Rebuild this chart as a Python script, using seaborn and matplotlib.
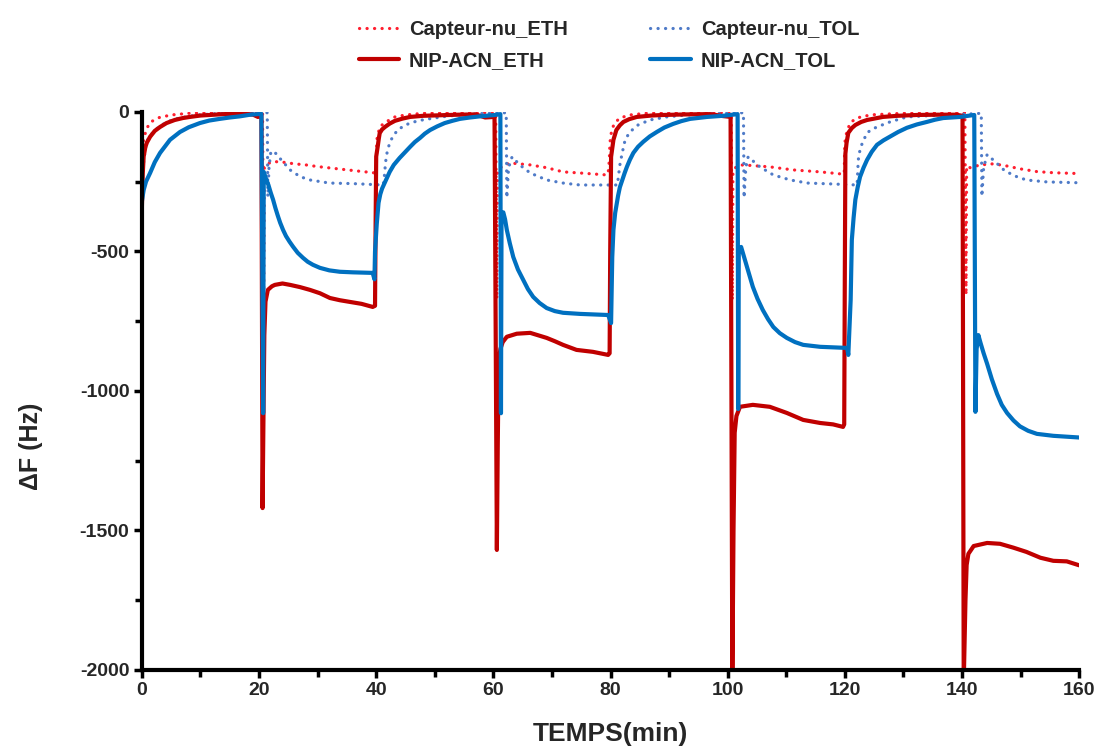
import numpy as np
import pandas as pd
import matplotlib
matplotlib.use("Agg")
import matplotlib.pyplot as plt
from matplotlib.ticker import MultipleLocator
import seaborn as sns

# Capteur-nu_ETH (bare sensor, ethanol)
t_nu_eth = [0, 0.4, 0.8, 1.5, 3, 5, 8, 12, 20.6,
            20.8, 20.9, 21.5, 22.5, 24, 26, 28, 30, 33, 36, 39.5, 40.0,
            40.1, 40.6, 41.5, 43.2, 45, 48, 55, 60.4,
            60.6, 60.7, 61.5, 62.8, 66.3, 69.1, 71.9, 74.8, 79.4, 79.6,
            79.8, 79.9, 80.2, 80.7, 81.6, 83.3, 86, 92, 100.6,
            100.8, 100.9, 101.5, 102.6, 107.2, 111.2, 115.8, 119.2, 119.9,
            120.0, 120.3, 120.9, 121.8, 123, 125, 130, 140.5,
            140.7, 140.8, 141.4, 143.1, 145.4, 147.7, 149.9, 152.8, 155.6, 160]
df_nu_eth = [-130, -90, -60, -36, -20, -11, -5, -3, -3,
             -670, -200, -185, -178, -180, -186, -190, -196, -203, -210, -218, -220,
             -100, -54, -38, -18, -11, -5, -3, -3,
             -670, -210, -195, -183, -190, -200, -215, -219, -226, -220,
             -172, -111, -65, -40, -22, -11, -5, -3, -3,
             -674, -215, -195, -190, -197, -208, -215, -222, -222,
             -111, -75, -40, -25, -16, -10, -5, -3,
             -656, -194, -200, -190, -186, -194, -204, -214, -218, -221]

# Capteur-nu_TOL (bare sensor, toluene)
t_nu_tol = [0, 0.3, 0.6, 1, 2, 3, 4.4, 6, 7.7, 10, 13, 17, 21.4,
            21.5, 21.7, 22, 22.5, 23.5, 25.3, 27, 28.7, 32, 36, 41.2,
            41.4, 41.6, 41.9, 42.3, 42.9, 43.7, 44.7, 45.8, 47.3, 49, 51.5, 54, 58, 62.2,
            62.3, 62.6, 63.2, 64.5, 66.3, 69.1, 71.9, 74.8, 81.2,
            81.3, 81.6, 82, 82.5, 83.3, 84.7, 86.7, 89.6, 93, 97, 102.7,
            102.8, 103.1, 103.5, 105.5, 107.8, 110.7, 113.6, 117.5, 122.1,
            122.3, 122.6, 123, 123.8, 124.6, 125.5, 127.7, 130.6, 134, 138, 143.3,
            143.4, 143.7, 144.3, 145.7, 147.1, 148.8, 151, 154.5, 160]
df_nu_tol = [-260, -180, -130, -100, -70, -52, -35, -24, -17, -10, -6, -3, -3,
             -304, -200, -145, -140, -165, -208, -232, -244, -255, -257, -262,
             -230, -180, -140, -112, -85, -65, -50, -40, -31, -25, -17, -11, -6, -3,
             -308, -200, -161, -190, -219, -244, -255, -262, -262,
             -240, -190, -147, -100, -72, -47, -29, -18, -11, -7, -3,
             -308, -200, -161, -197, -226, -244, -255, -258, -262,
             -172, -135, -111, -75, -63, -54, -36, -18, -14, -11, -5,
             -303, -200, -153, -179, -207, -228, -244, -251, -254]

# NIP-ACN_ETH (coated sensor, ethanol)
t_nip_eth = [0, 0.15, 0.3, 0.6, 0.85, 1.4, 2.2, 3.1, 4.2, 5.6, 7, 8.2, 10, 11.6, 14, 17, 19, 19.8, 20.4,
             20.6, 20.75, 20.9, 21.1, 21.5, 22.2, 22.7, 24, 25.3, 27, 28.7, 30.4, 32.1, 33.8, 35.5, 37.5, 39.4, 39.8,
             39.9, 40.0, 40.3, 40.45, 40.6, 41, 41.5, 42.3, 43.2, 44.5, 45.8, 48, 51, 54, 57, 58.6, 60.2,
             60.6, 60.75, 60.9, 61.2, 61.6, 62.3, 64, 66.3, 69.1, 70.5, 71.9, 74.2, 77, 79.6, 79.85,
             79.95, 80.1, 80.5, 81, 81.6, 82.2, 83.2, 84.5, 87, 89, 93, 97, 99.2, 100.5,
             100.8, 101.0, 101.2, 101.5, 102.1, 104.3, 107.2, 110.1, 112.9, 115.8, 118, 119.7, 119.9,
             120.0, 120.1, 120.3, 120.6, 121.2, 121.8, 122.8, 123.8, 126.5, 129, 132.3, 136, 139, 140.1,
             140.3, 140.6, 140.8, 141.1, 142, 144.3, 146.5, 148.8, 151, 153.4, 155.6, 157.9, 160]
df_nip_eth = [-340, -220, -160, -125, -110, -89, -68, -54, -40, -29, -22, -18, -13, -11, -8, -6, -10, -18, -15,
              -1420, -1100, -800, -680, -638, -625, -620, -615, -620, -628, -638, -650, -667, -675, -681, -688, -699, -695,
              -400, -160, -118, -95, -76, -63, -54, -42, -32, -24, -18, -14, -12, -10, -9, -20, -18,
              -1570, -1200, -900, -850, -825, -806, -795, -792, -810, -822, -835, -853, -860, -871, -865,
              -500, -161, -100, -65, -48, -36, -26, -18, -13, -11, -9, -8, -15, -18,
              -2050, -1500, -1150, -1090, -1057, -1050, -1057, -1079, -1104, -1115, -1120, -1129, -1120,
              -600, -150, -111, -75, -58, -47, -36, -29, -18, -14, -11, -10, -10, -14,
              -2050, -1750, -1624, -1584, -1556, -1545, -1548, -1562, -1577, -1598, -1609, -1611, -1625]

# NIP-ACN_TOL (coated sensor, toluene)
t_nip_tol = [0, 0.3, 0.7, 1.4, 2.2, 3.1, 4.8, 6.5, 8, 9.9, 11.5, 13.3, 15, 16.7, 18.5, 20.4,
             20.7, 20.8, 21.2, 21.6, 22.0, 22.4, 22.8, 23.2, 23.6, 24.1, 24.6, 25.2, 25.8, 26.6, 27.5,
             28.3, 29.2, 30.4, 32, 33.8, 36, 39.4, 39.7,
             39.8, 40.1, 40.4, 40.7, 41, 41.5, 42.3, 43, 44, 44.9, 45.8, 46.6, 47.5, 48.3, 49.2,
             50.4, 51.7, 53, 54.3, 56, 57.7, 60.3, 61.2,
             61.3, 61.4, 61.7, 62.0, 62.3, 62.8, 63.4, 64.2, 65.1, 65.9, 66.8, 67.9, 69.1, 70.5,
             71.9, 74.8, 79.6, 80.1,
             80.3, 80.5, 80.8, 81.3, 81.6, 82, 82.4, 82.8, 83.3, 83.9, 84.7, 85.6, 86.7, 87.9,
             89.2, 90.7, 92.1, 93.6, 96.5, 99.2, 101.7,
             101.8, 101.9, 102.3, 102.8, 103.3, 103.8, 104.3, 105.1, 106, 106.9, 107.8, 108.9,
             110.1, 111.5, 112.9, 115.8, 120.4, 120.6,
             121.0, 121.2, 121.5, 121.8, 122.2, 122.6, 123.2, 123.8, 124.6, 125.5, 126.6, 127.7,
             129.1, 130.6, 132.3, 134, 135.4, 136.8, 139.7, 142.1,
             142.3, 142.5, 142.8, 143.2, 143.7, 144.3, 145.1, 146, 146.8, 147.7, 148.8, 149.9,
             151.3, 152.8, 155.6, 160]
df_nip_tol = [-320, -280, -250, -219, -180, -147, -100, -72, -55, -40, -31, -25, -20, -16, -10, -7,
              -1080, -215, -240, -262, -290, -315, -345, -372, -397, -423, -445, -465, -483, -505, -523,
              -537, -548, -559, -568, -573, -575, -577, -600,
              -500, -400, -326, -295, -275, -252, -215, -190, -165, -145, -125, -108, -93, -78, -65,
              -52, -40, -32, -25, -20, -16, -11, -8,
              -1080, -362, -360, -385, -423, -470, -520, -565, -602, -635, -663, -685, -703, -714,
              -720, -724, -728, -757,
              -520, -423, -362, -300, -270, -245, -220, -197, -172, -147, -125, -107, -88, -72,
              -56, -43, -33, -25, -18, -14, -8,
              -1065, -500, -484, -520, -556, -592, -627, -670, -710, -743, -771, -793,
              -810, -825, -835, -842, -846, -871,
              -674, -459, -380, -315, -270, -233, -200, -172, -143, -118, -102, -89,
              -72, -57, -45, -36, -28, -22, -18, -11,
              -1075, -850, -800, -830, -865, -903, -958, -1011, -1050, -1079, -1106, -1127,
              -1143, -1154, -1161, -1167]

series_names = ["Capteur-nu_ETH", "NIP-ACN_ETH", "Capteur-nu_TOL", "NIP-ACN_TOL"]
series_colors = ["#FF1F2F", "#C00000", "#4F7BC8", "#0070C0"]

sns.set_style("ticks")
plt.rcParams["font.family"] = ["Liberation Sans", "DejaVu Sans"]
plt.rcParams["font.weight"] = "bold"
plt.rcParams["axes.unicode_minus"] = False

fig = plt.figure(figsize=(11, 7.46), dpi=100)
ax = fig.add_axes([0.129, 0.102, 0.852, 0.748])

data = {
    "Capteur-nu_ETH": (t_nu_eth, df_nu_eth),
    "Capteur-nu_TOL": (t_nu_tol, df_nu_tol),
    "NIP-ACN_ETH": (t_nip_eth, df_nip_eth),
    "NIP-ACN_TOL": (t_nip_tol, df_nip_tol),
}
dotted = {"Capteur-nu_ETH", "Capteur-nu_TOL"}

handles = {}
for name in ["Capteur-nu_ETH", "Capteur-nu_TOL", "NIP-ACN_ETH", "NIP-ACN_TOL"]:
    t, v = data[name]
    d = pd.DataFrame({"t": t, "dF": v})
    color = series_colors[series_names.index(name)]
    lw = 2.3 if name in dotted else 3.0
    sns.lineplot(data=d, x="t", y="dF", sort=False, estimator=None,
                 color=color, linewidth=lw, ax=ax, label=name)
    line = ax.lines[-1]
    line.set_solid_joinstyle("round")
    if name in dotted:
        line.set_dashes((0.05, 2.3))
        line.set_dash_capstyle("round")
    handles[name] = line

ax.get_legend().remove()

ax.set_xlim(0, 160)
ax.set_ylim(-2000, 0)
ax.xaxis.set_major_locator(MultipleLocator(20))
ax.xaxis.set_minor_locator(MultipleLocator(10))
ax.yaxis.set_major_locator(MultipleLocator(500))
ax.yaxis.set_minor_locator(MultipleLocator(250))

sns.despine(ax=ax)
for side in ["left", "bottom"]:
    ax.spines[side].set_linewidth(3)
    ax.spines[side].set_color("black")
    ax.spines[side].set_zorder(5)
ax.tick_params(which="major", direction="out", length=6, width=2.5,
               labelsize=14, pad=3, color="black")
ax.tick_params(which="minor", direction="out", length=5, width=2.5, color="black")
for lab in ax.get_xticklabels() + ax.get_yticklabels():
    lab.set_fontweight("bold")

ax.set_xlabel("TEMPS(min)", fontsize=19, fontweight="bold", labelpad=16)
ax.set_ylabel("ΔF (Hz)", fontsize=18, fontweight="bold")
ax.yaxis.set_label_coords(-0.106, 0.40)

order = ["Capteur-nu_ETH", "NIP-ACN_ETH", "Capteur-nu_TOL", "NIP-ACN_TOL"]
fig.legend([handles[n] for n in order], order, loc="upper center",
           bbox_to_anchor=(0.5536, 0.997), ncol=2, frameon=False,
           prop={"size": 14.5, "weight": "bold"}, handlelength=2.0,
           handletextpad=0.5, columnspacing=4.1, labelspacing=0.6)

fig.savefig("out.png", dpi=100)
